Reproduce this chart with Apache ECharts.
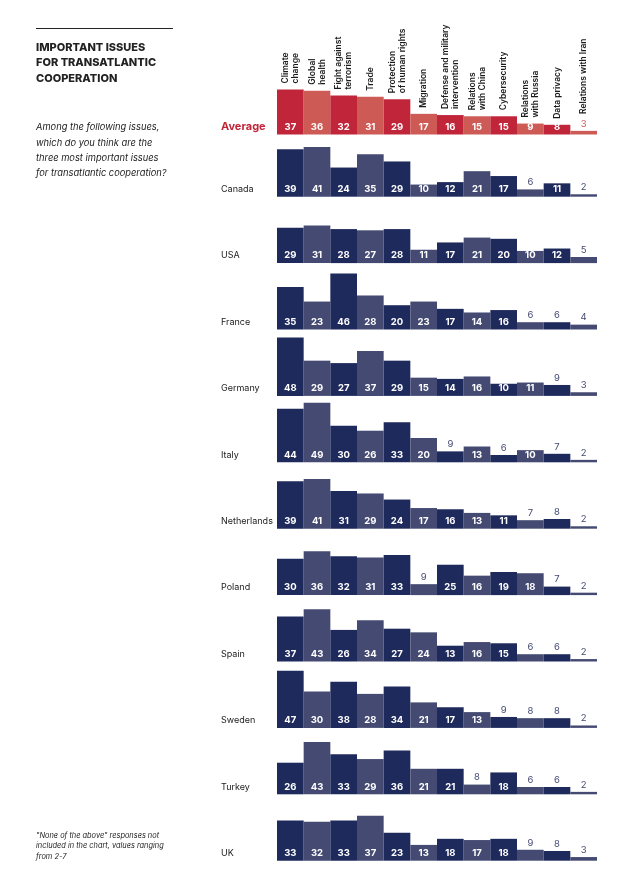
<!DOCTYPE html>
<html><head><meta charset="utf-8">
<script src="https://cdn.jsdelivr.net/npm/echarts@6/dist/echarts.min.js"></script>
<style>html,body{margin:0;padding:0;background:#fff}#c{width:626px;height:870px}</style>
</head><body><div id="c"></div>
<script>
const issues = ["Climate\nchange","Global\nhealth","Fight against\nterrorism","Trade","Protection\nof human rights","Migration","Defense and military\nintervention","Relations\nwith China","Cybersecurity","Relations\nwith Russia","Data privacy","Relations with Iran"];
const average = [37,36,32,31,29,17,16,15,15,9,8,3];
const countries = ["Canada","USA","France","Germany","Italy","Netherlands","Poland","Spain","Sweden","Turkey","UK"];
const canada = [39,41,24,35,29,10,12,21,17,6,11,2];
const usa = [29,31,28,27,28,11,17,21,20,10,12,5];
const france = [35,23,46,28,20,23,17,14,16,6,6,4];
const germany = [48,29,27,37,29,15,14,16,10,11,9,3];
const italy = [44,49,30,26,33,20,9,13,6,10,7,2];
const netherlands = [39,41,31,29,24,17,16,13,11,7,8,2];
const poland = [30,36,32,31,33,9,25,16,19,18,7,2];
const spain = [37,43,26,34,27,24,13,16,15,6,6,2];
const sweden = [47,30,38,28,34,21,17,13,9,8,8,2];
const turkey = [26,43,33,29,36,21,21,8,18,6,6,2];
const uk = [33,32,33,37,23,13,18,17,18,9,8,3];
const countryValues = [canada,usa,france,germany,italy,netherlands,poland,spain,sweden,turkey,uk];

const FONT = "Inter, 'Liberation Sans', sans-serif";
const PX = 1.215, YMAX = 50, H = YMAX*PX;
const LEFT = 277, WIDTH = 320;
const avgBase = 134.5;
const baselines = countries.map((c,i)=>196.7 + i*66.4);

const grids=[], xAxes=[], yAxes=[], series=[], graphics=[];
function addGrid(base){
  const gi = grids.length;
  grids.push({left:LEFT, width:WIDTH, top:base-H, height:H});
  xAxes.push({type:'category', gridIndex:gi, data:issues, show:false});
  yAxes.push({type:'value', gridIndex:gi, min:0, max:YMAX, show:false});
  return gi;
}
function barData(vals, c1, c2, threshold, aboveColor){
  return vals.map((v,i)=>({
    value:v,
    itemStyle:{color: i%2===0?c1:c2},
    label: v<threshold ? {position:'top', distance:2, color:aboveColor, fontWeight:'normal'} : {}
  }));
}
// average
let g = addGrid(avgBase);
series.push({type:'bar', xAxisIndex:g, yAxisIndex:g, barWidth:'100%', barGap:'-100%',
  data: barData(average,'#C0253A','#CD5A55',5,'#CD5A55'),
  label:{show:true, position:'insideBottom', distance:2.5, color:'#fff', fontFamily:FONT, fontSize:9.5, fontWeight:'bold'},
  silent:true, animation:false});
series.push({type:'bar', xAxisIndex:g, yAxisIndex:g, barWidth:'100%', barGap:'-100%',
  data: average.map(v=>v + (v<5?9:0)),
  itemStyle:{color:'rgba(0,0,0,0)'},
  label:{show:true, position:'top', rotate:90, align:'left', verticalAlign:'middle', distance:6,
    formatter:p=>issues[p.dataIndex], color:'#1a1a1a', fontFamily:FONT, fontSize:8.5, fontWeight:600, lineHeight:10},
  silent:true, animation:false});
graphics.push({type:'text', left:221, top:avgBase-13, style:{text:'Average', fill:'#C0253A', font:'bold 11px '+FONT}});

countryValues.forEach((vals,ci)=>{
  const base = baselines[ci];
  const gi = addGrid(base);
  series.push({type:'bar', xAxisIndex:gi, yAxisIndex:gi, barWidth:'100%',
    data: barData(vals,'#1F2A5C','#444A72',10,'#444A72'),
    label:{show:true, position:'insideBottom', distance:2.5, color:'#fff', fontFamily:FONT, fontSize:9.5, fontWeight:'bold'},
    silent:true, animation:false});
  graphics.push({type:'text', left:221, top:base-12, style:{text:countries[ci], fill:'#222', font:'9px '+FONT}});
});

graphics.push({type:'line', shape:{x1:36, y1:28.5, x2:173, y2:28.5}, style:{stroke:'#222', lineWidth:1.2}});
graphics.push({type:'text', left:36, top:40, style:{text:'IMPORTANT ISSUES\nFOR TRANSATLANTIC\nCOOPERATION', fill:'#222', font:'800 11px '+FONT, lineHeight:15.3}});
graphics.push({type:'text', left:36, top:120, style:{text:'Among the following issues,\nwhich do you think are the\nthree most important issues\nfor transatlantic cooperation?', fill:'#222', font:'italic 9.3px '+FONT, lineHeight:15.3}});
graphics.push({type:'text', left:36, top:830, style:{text:'"None of the above" responses not\nincluded in the chart, values ranging\nfrom 2-7', fill:'#222', font:'italic 7.4px '+FONT, lineHeight:10.8}});

const chart = echarts.init(document.getElementById('c'), null, {renderer:'canvas'});
chart.setOption({animation:false, grid:grids, xAxis:xAxes, yAxis:yAxes, series:series, graphic:graphics});
</script></body></html>
